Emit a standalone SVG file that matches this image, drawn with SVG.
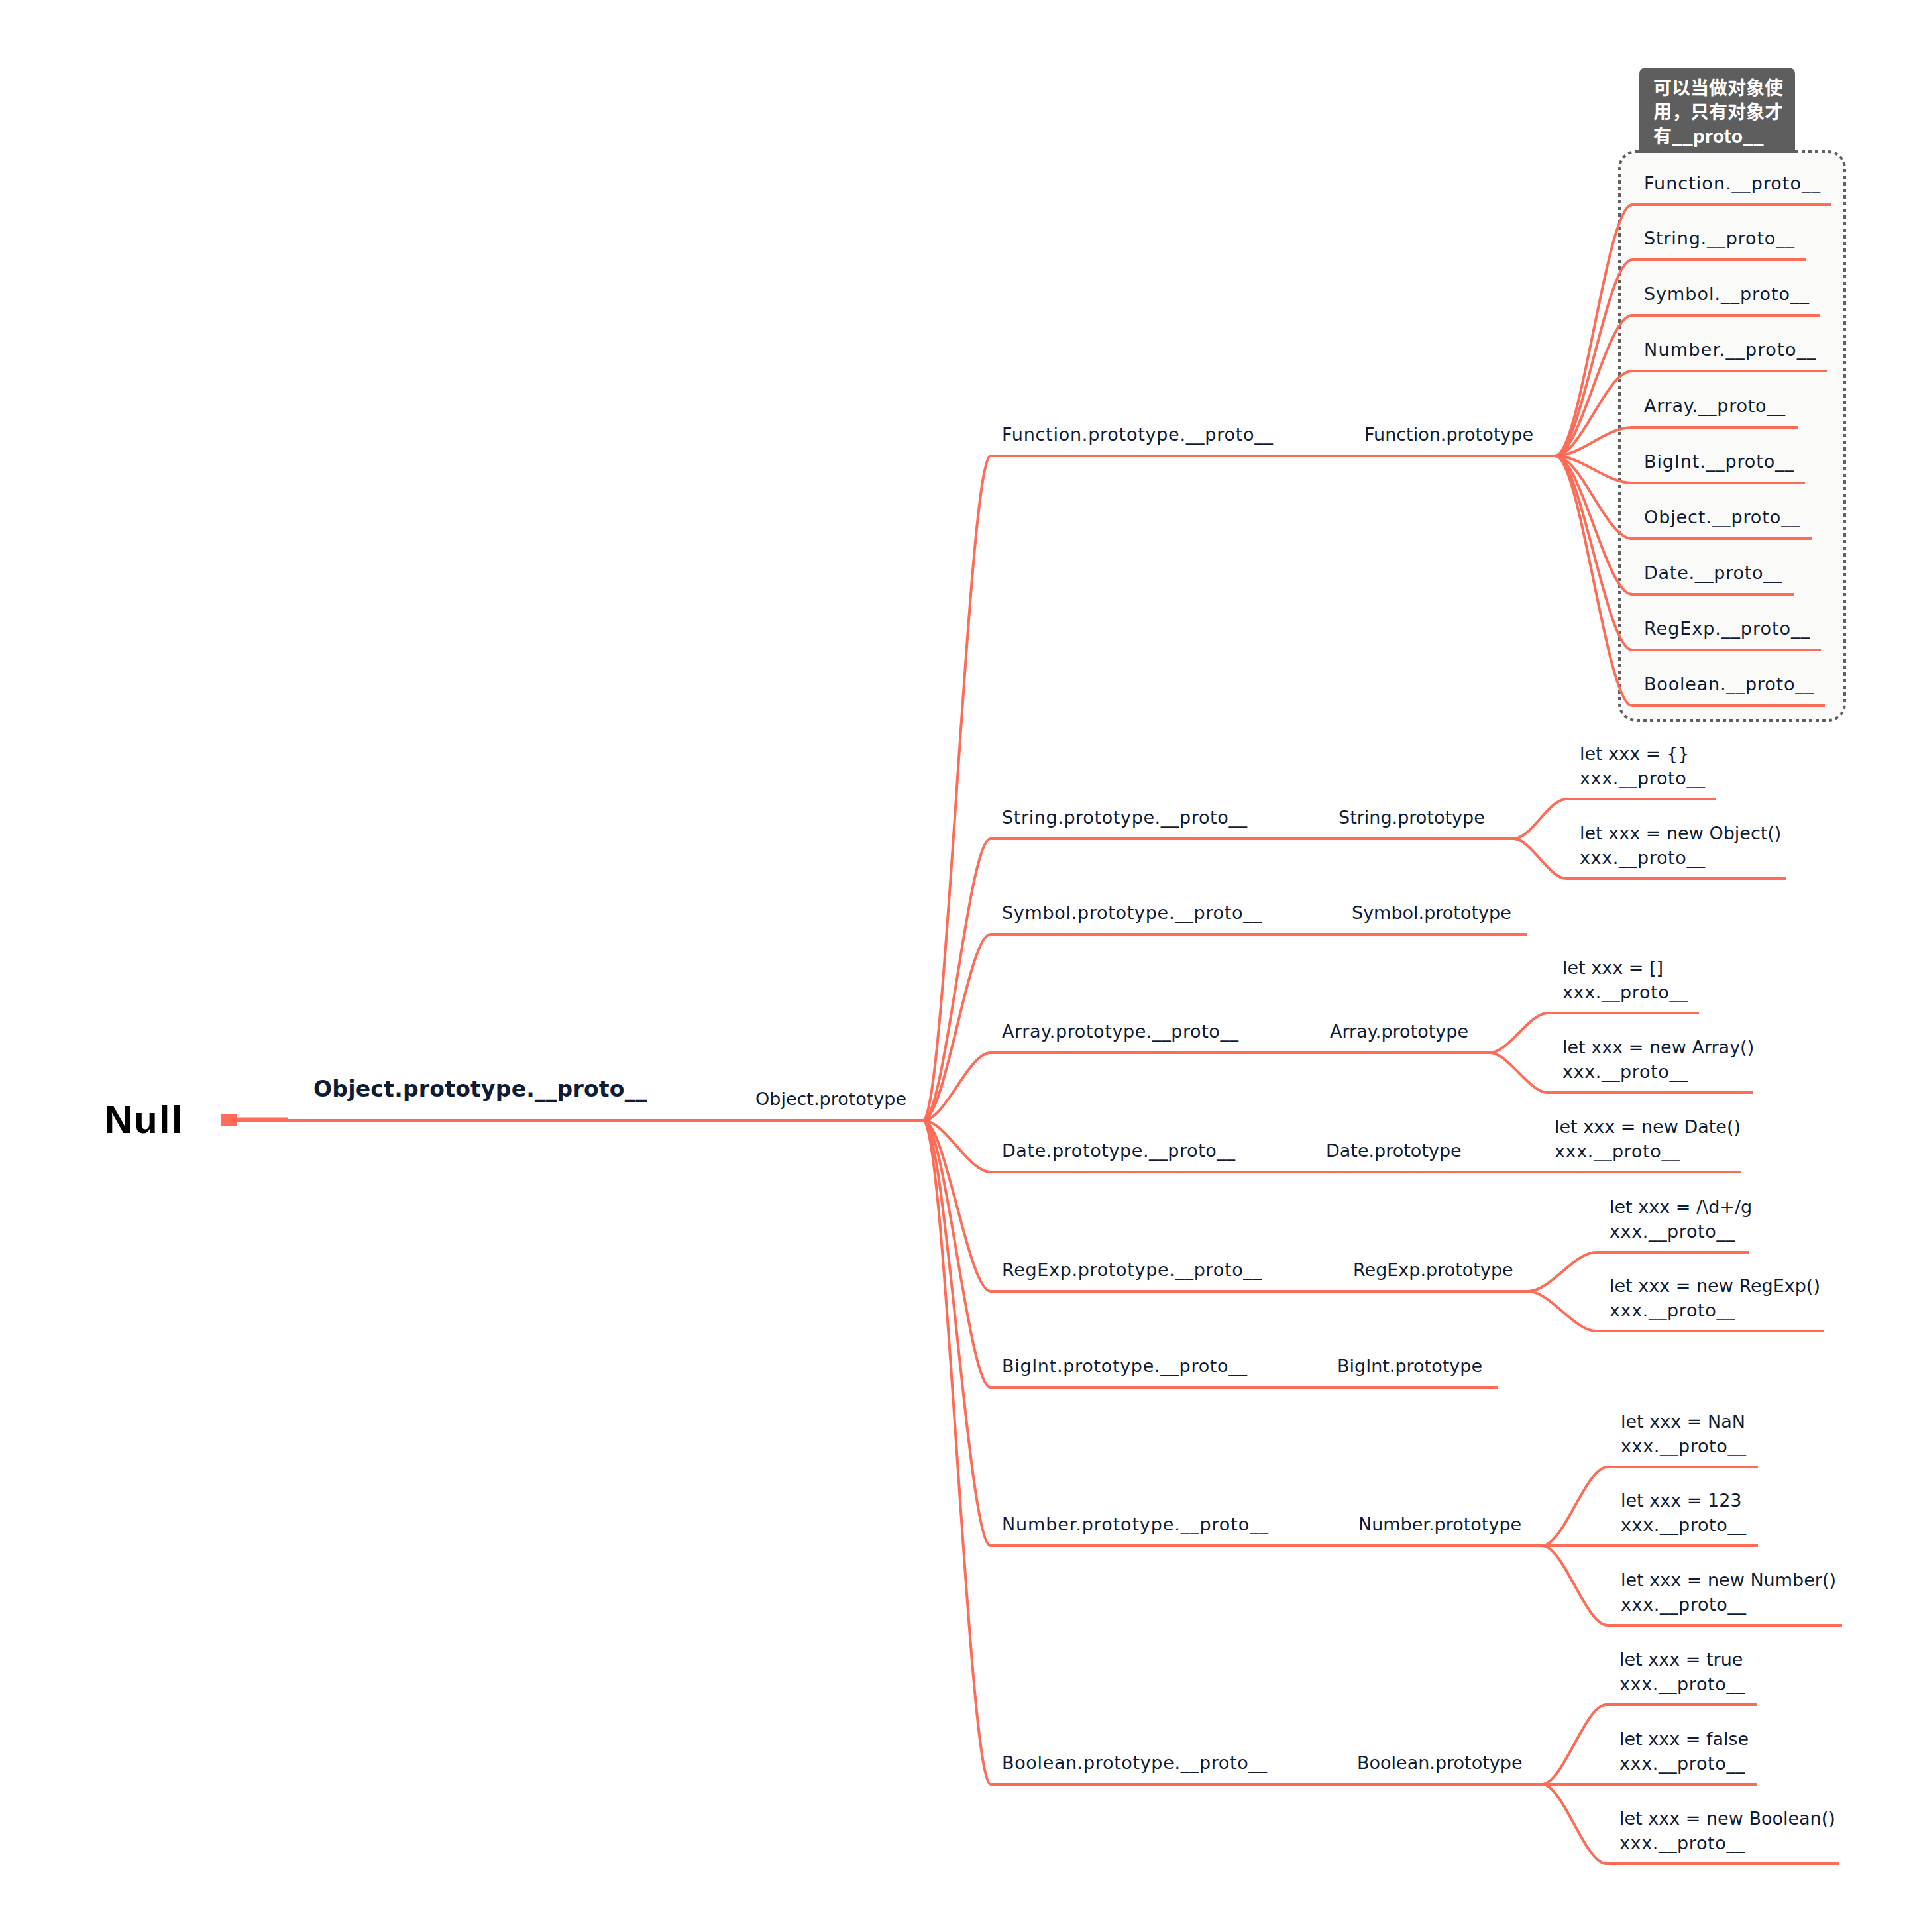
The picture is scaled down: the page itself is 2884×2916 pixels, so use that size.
<svg xmlns="http://www.w3.org/2000/svg" width="2884" height="2916" viewBox="0 0 2884 2916">
<style>
.t{font-family:"DejaVu Sans","Noto Sans",sans-serif;font-size:27px;fill:#101c34}
.ln{fill:none;stroke:#fe6c58;stroke-width:4}
.tip{font-family:"Noto Sans CJK SC","Noto Sans",sans-serif;font-size:28px;font-weight:bold;fill:#ffffff}
</style>
<rect width="2884" height="2916" fill="#ffffff"/>
<g id="boundary">
<rect x="2444" y="229" width="340" height="858" rx="25" ry="25" fill="#fafaf8" stroke="#5f5f5f" stroke-width="4" stroke-dasharray="5 5"/>
<path d="M2474 231 V112 Q2474 102 2484 102 H2699 Q2709 102 2709 112 V231 Z" fill="#5e5e5e"/>
<text class="tip" x="2495" y="143">可以当做对象使</text>
<text class="tip" x="2495" y="179">用，只有对象才</text>
<text class="tip" x="2495" y="216">有__proto__</text>
</g>
<g id="connectors">
<rect x="334" y="1681" width="24" height="18" fill="#fe6c58"/>
<line x1="356" y1="1690" x2="434" y2="1690" stroke="#fe6c58" stroke-width="7"/>
<line x1="430" y1="1691" x2="1395" y2="1691" stroke="#fe6c58" stroke-width="4"/>
<path class="ln" d="M1393 1691 C1427 1691 1461 688 1495 688 L2347 688"/>
<path class="ln" d="M1393 1691 C1427 1691 1461 1266 1495 1266 L2284 1266"/>
<path class="ln" d="M1393 1691 C1427 1691 1461 1410 1495 1410 L2305 1410"/>
<path class="ln" d="M1393 1691 C1427 1691 1461 1589 1495 1589 L2248 1589"/>
<path class="ln" d="M1393 1691 C1427 1691 1461 1769 1495 1769 L2628 1769"/>
<path class="ln" d="M1393 1691 C1427 1691 1461 1949 1495 1949 L2306 1949"/>
<path class="ln" d="M1393 1691 C1427 1691 1461 2094 1495 2094 L2260 2094"/>
<path class="ln" d="M1393 1691 C1427 1691 1461 2333 1495 2333 L2327 2333"/>
<path class="ln" d="M1393 1691 C1427 1691 1461 2693 1495 2693 L2327 2693"/>
<path class="ln" d="M2347 688 C2386 688 2424 309 2463 309 L2764 309"/>
<path class="ln" d="M2347 688 C2386 688 2424 392 2463 392 L2725 392"/>
<path class="ln" d="M2347 688 C2386 688 2424 476 2463 476 L2747 476"/>
<path class="ln" d="M2347 688 C2386 688 2424 560 2463 560 L2757 560"/>
<path class="ln" d="M2347 688 C2386 688 2424 645 2463 645 L2713 645"/>
<path class="ln" d="M2347 688 C2386 688 2424 729 2463 729 L2724 729"/>
<path class="ln" d="M2347 688 C2386 688 2424 813 2463 813 L2734 813"/>
<path class="ln" d="M2347 688 C2386 688 2424 897 2463 897 L2707 897"/>
<path class="ln" d="M2347 688 C2386 688 2424 981 2463 981 L2748 981"/>
<path class="ln" d="M2347 688 C2386 688 2424 1065 2463 1065 L2754 1065"/>
<path class="ln" d="M2284 1266 C2311 1266 2337 1206 2364 1206 L2590 1206"/>
<path class="ln" d="M2284 1266 C2311 1266 2337 1326 2364 1326 L2695 1326"/>
<path class="ln" d="M2248 1589 C2277 1589 2307 1529 2336 1529 L2564 1529"/>
<path class="ln" d="M2248 1589 C2277 1589 2307 1649 2336 1649 L2646 1649"/>
<path class="ln" d="M2306 1949 C2340 1949 2375 1890 2409 1890 L2639 1890"/>
<path class="ln" d="M2306 1949 C2340 1949 2375 2009 2409 2009 L2753 2009"/>
<path class="ln" d="M2327 2333 C2360 2333 2393 2214 2426 2214 L2653 2214"/>
<path class="ln" d="M2325 2333 L2653 2333"/>
<path class="ln" d="M2327 2333 C2360 2333 2393 2453 2426 2453 L2780 2453"/>
<path class="ln" d="M2327 2693 C2359 2693 2392 2573 2424 2573 L2651 2573"/>
<path class="ln" d="M2325 2693 L2651 2693"/>
<path class="ln" d="M2327 2693 C2359 2693 2392 2813 2424 2813 L2775 2813"/>
</g>
<g id="null"><text x="158" y="1710" textLength="117" style="font-family:'Liberation Sans',sans-serif;font-size:58px;font-weight:bold;fill:#000000">Null</text></g>
<g id="obj-proto-proto"><text x="473" y="1655" textLength="503" style="font-family:'DejaVu Sans',sans-serif;font-size:33px;font-weight:bold;fill:#101c34">Object.prototype.__proto__</text></g>
<g id="obj-proto"><text class="t" x="1140" y="1668">Object.prototype</text></g>
<g id="function"><text class="t" x="1512" y="665" textLength="409">Function.prototype.__proto__</text><text class="t" x="2059" y="665">Function.prototype</text></g>
<g id="function-children">
<text class="t" x="2481" y="286" textLength="266">Function.__proto__</text>
<text class="t" x="2481" y="369" textLength="227">String.__proto__</text>
<text class="t" x="2481" y="453" textLength="249">Symbol.__proto__</text>
<text class="t" x="2481" y="537" textLength="259">Number.__proto__</text>
<text class="t" x="2481" y="622" textLength="213">Array.__proto__</text>
<text class="t" x="2481" y="706" textLength="226">BigInt.__proto__</text>
<text class="t" x="2481" y="790" textLength="235">Object.__proto__</text>
<text class="t" x="2481" y="874" textLength="208">Date.__proto__</text>
<text class="t" x="2481" y="958" textLength="250">RegExp.__proto__</text>
<text class="t" x="2481" y="1042" textLength="256">Boolean.__proto__</text>
</g>
<g id="string"><text class="t" x="1512" y="1243" textLength="370">String.prototype.__proto__</text><text class="t" x="2020" y="1243">String.prototype</text>
<text class="t" x="2384" y="1147">let xxx = {}</text><text class="t" x="2384" y="1184" textLength="189">xxx.__proto__</text>
<text class="t" x="2384" y="1267">let xxx = new Object()</text><text class="t" x="2384" y="1304" textLength="189">xxx.__proto__</text></g>
<g id="symbol"><text class="t" x="1512" y="1387" textLength="392">Symbol.prototype.__proto__</text><text class="t" x="2040" y="1387">Symbol.prototype</text></g>
<g id="array"><text class="t" x="1512" y="1566" textLength="357">Array.prototype.__proto__</text><text class="t" x="2007" y="1566">Array.prototype</text>
<text class="t" x="2358" y="1470">let xxx = []</text><text class="t" x="2358" y="1507" textLength="189">xxx.__proto__</text>
<text class="t" x="2358" y="1590">let xxx = new Array()</text><text class="t" x="2358" y="1627" textLength="189">xxx.__proto__</text></g>
<g id="date"><text class="t" x="1512" y="1746" textLength="352">Date.prototype.__proto__</text><text class="t" x="2001" y="1746">Date.prototype</text>
<text class="t" x="2346" y="1710">let xxx = new Date()</text><text class="t" x="2346" y="1747" textLength="189">xxx.__proto__</text></g>
<g id="regexp"><text class="t" x="1512" y="1926" textLength="392">RegExp.prototype.__proto__</text><text class="t" x="2042" y="1926">RegExp.prototype</text>
<text class="t" x="2429" y="1831">let xxx = /\d+/g</text><text class="t" x="2429" y="1868" textLength="189">xxx.__proto__</text>
<text class="t" x="2429" y="1950">let xxx = new RegExp()</text><text class="t" x="2429" y="1987" textLength="189">xxx.__proto__</text></g>
<g id="bigint"><text class="t" x="1512" y="2071" textLength="370">BigInt.prototype.__proto__</text><text class="t" x="2018" y="2071">BigInt.prototype</text></g>
<g id="number"><text class="t" x="1512" y="2310" textLength="402">Number.prototype.__proto__</text><text class="t" x="2050" y="2310">Number.prototype</text>
<text class="t" x="2446" y="2155">let xxx = NaN</text><text class="t" x="2446" y="2192" textLength="189">xxx.__proto__</text>
<text class="t" x="2446" y="2274">let xxx = 123</text><text class="t" x="2446" y="2311" textLength="189">xxx.__proto__</text>
<text class="t" x="2446" y="2394">let xxx = new Number()</text><text class="t" x="2446" y="2431" textLength="189">xxx.__proto__</text></g>
<g id="boolean"><text class="t" x="1512" y="2670" textLength="400">Boolean.prototype.__proto__</text><text class="t" x="2048" y="2670">Boolean.prototype</text>
<text class="t" x="2444" y="2514">let xxx = true</text><text class="t" x="2444" y="2551" textLength="189">xxx.__proto__</text>
<text class="t" x="2444" y="2634">let xxx = false</text><text class="t" x="2444" y="2671" textLength="189">xxx.__proto__</text>
<text class="t" x="2444" y="2754">let xxx = new Boolean()</text><text class="t" x="2444" y="2791" textLength="189">xxx.__proto__</text></g>
</svg>
